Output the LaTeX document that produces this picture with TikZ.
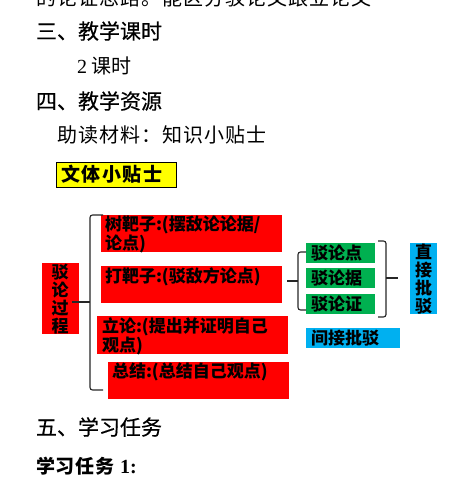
\documentclass[tikz,border=0pt]{standalone}
\usepackage{fontspec}
\setmainfont{Liberation Serif}
\newfontfamily\cjk{Noto Sans CJK SC}
\newfontfamily\cjkh[FakeBold=0.5]{Noto Sans CJK SC}
\newfontfamily\cjkls[LetterSpace=5]{Noto Sans CJK SC}
\definecolor{boxred}{RGB}{255,0,0}
\definecolor{boxgreen}{RGB}{0,176,80}
\definecolor{boxblue}{RGB}{0,176,240}
\definecolor{boxyellow}{RGB}{255,255,0}
\tikzset{
  txt/.style={inner sep=0pt, outer sep=0pt, anchor=west, text=black},
  head/.style={txt, font=\cjkh\fontsize{21}{24}\selectfont},
  plain/.style={txt, font=\cjkls\fontsize{20}{24}\selectfont},
  boxtxt/.style={txt, font=\cjk\bfseries\fontsize{17}{18}\selectfont, align=left},
  vtxt/.style={inner sep=0pt, font=\cjk\bfseries\fontsize{17}{18}\selectfont, align=center},
  rect/.style={inner sep=0pt, outer sep=0pt, anchor=north west, draw=none},
  brace/.style={draw=black!85, line width=1.1pt, rounded corners=2.5pt},
}
\begin{document}
\begin{tikzpicture}[x=1pt,y=-1pt]
\useasboundingbox (0,0) rectangle (450,502);
% top line, cut off by the page edge as in the reference
\begin{scope}
\clip (0,0) rectangle (450,502);
\node[plain, anchor=west] (cut) at (36,-2) {的论证思路。能区分驳论文跟立论文};
\end{scope}
\node[head] (h3) at (36,31) {三、教学课时};
\node[txt, font=\cjk\fontsize{20}{24}\selectfont] (ks) at (77,66) {{\rmfamily 2} 课时};
\node[head] (h4) at (36,101) {四、教学资源};
\node[plain] (zd) at (57,135) {助读材料：知识小贴士};
\node[rect, fill=boxyellow, draw=black, line width=0.8pt, minimum width=120pt, minimum height=25pt] (wt) at (56,162) {};
\node[txt, font=\cjk\bfseries\fontsize{19}{20}\selectfont\addfontfeature{LetterSpace=8}] (wtt) at (61,174.5) {文体小贴士};

% left process box
\node[rect, fill=boxred, minimum width=37pt, minimum height=71pt] (proc) at (42,263) {};
\node[vtxt] (proct) at (60,299) {驳\\论\\过\\程};

% red boxes
\node[rect, fill=boxred, minimum width=181pt, minimum height=37pt] (r1) at (101,215) {};
\node[boxtxt] (r1t) at (105,234) {树靶子:(摆敌论论据/\\论点)};
\node[rect, fill=boxred, minimum width=181pt, minimum height=37pt] (r2) at (101,266) {};
\node[boxtxt] (r2t) at (105,277) {打靶子:(驳敌方论点)};
\node[rect, fill=boxred, minimum width=191pt, minimum height=38pt] (r3) at (97,316) {};
\node[boxtxt] (r3t) at (102,336) {立论:(提出并证明自己\\观点)};
\node[rect, fill=boxred, minimum width=181pt, minimum height=37pt] (r4) at (108,362) {};
\node[boxtxt] (r4t) at (112,372) {总结:(总结自己观点)};

% green boxes
\node[rect, fill=boxgreen, minimum width=69pt, minimum height=20pt] (g1) at (306,243) {};
\node[boxtxt] (g1t) at (311,253) {驳论点};
\node[rect, fill=boxgreen, minimum width=69pt, minimum height=20pt] (g2) at (306,268) {};
\node[boxtxt] (g2t) at (311,278) {驳论据};
\node[rect, fill=boxgreen, minimum width=69pt, minimum height=20pt] (g3) at (306,294) {};
\node[boxtxt] (g3t) at (311,304) {驳论证};

% blue boxes
\node[rect, fill=boxblue, minimum width=27pt, minimum height=71pt] (b1) at (410,243) {};
\node[vtxt] (b1t) at (423.5,279) {直\\接\\批\\驳};
\node[rect, fill=boxblue, minimum width=94pt, minimum height=20pt] (b2) at (306,328) {};
\node[boxtxt] (b2t) at (311,338) {间接批驳};

% braces
\coordinate (lb) at (90,302);
\coordinate (lstub) at (72,302);
\draw[brace] (103,215) -| (lb) |- (103,390);
\draw[brace] (lstub) -- (lb);

\coordinate (mb) at (298,281);
\coordinate (mstub) at (287,281);
\draw[brace] (g1.west |- 0,252) -| (mb) |- (g3.west |- 0,310);
\draw[brace] (mstub) -- (mb);

\coordinate (rb) at (386,278);
\coordinate (rstub) at (398,278);
\draw[brace] (378,241) -| (rb) |- (378,317);
\draw[brace] (rb) -- (rstub);

% bottom headings
\node[head] (h5) at (36,427) {五、学习任务};
\node[txt, font=\cjk\bfseries\fontsize{19}{24}\selectfont\addfontfeature{LetterSpace=5}] (rw) at (36,466) {学习任务 {\rmfamily\bfseries\fontsize{20}{24}\selectfont 1:}};
\end{tikzpicture}
\end{document}
